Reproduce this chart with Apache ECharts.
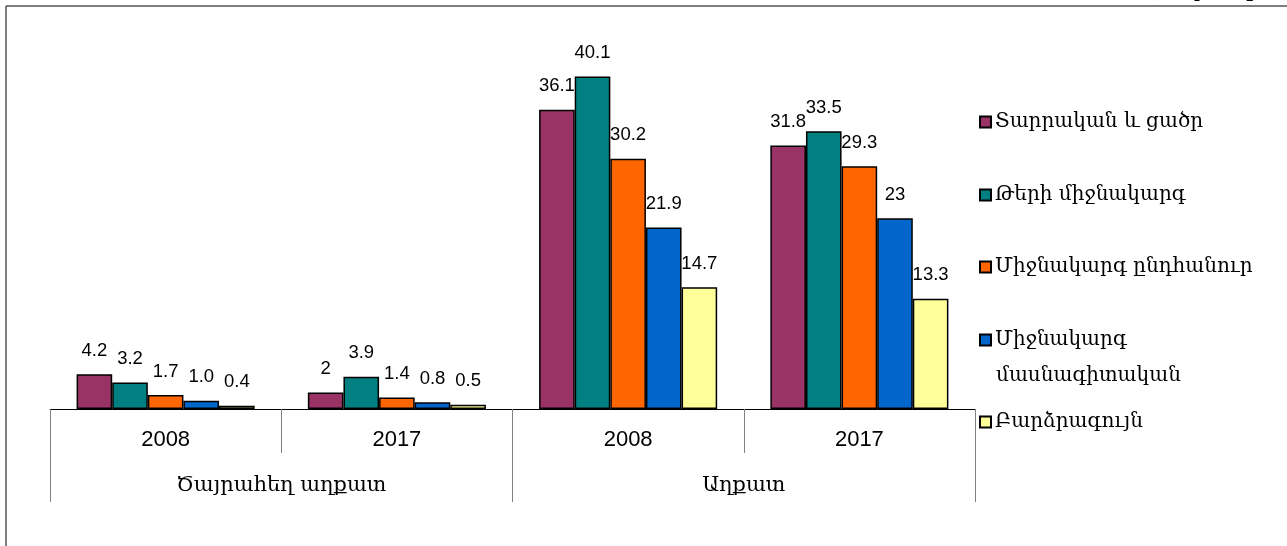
<!DOCTYPE html>
<html>
<head>
<meta charset="utf-8">
<script src="https://cdn.jsdelivr.net/npm/echarts@6/dist/echarts.min.js"></script>
<style>
  html, body { margin: 0; padding: 0; background: #fff; }
  #main { width: 1287px; height: 546px; }
</style>
</head>
<body>
<div id="main"></div>
<script>
// categories
var years = ['2008', '2017', '2008', '2017'];
var groups = ['Ծայրահեղ աղքատ', 'Աղքատ'];
// education levels (series)
var levels = ['Տարրական և ցածր', 'Թերի միջնակարգ', 'Միջնակարգ ընդհանուր', 'Միջնակարգ մասնագիտական', 'Բարձրագույն'];
// values, kept as printed in the source
var elementary = ['4.2', '2', '36.1', '31.8'];
var incompleteSecondary = ['3.2', '3.9', '40.1', '33.5'];
var generalSecondary = ['1.7', '1.4', '30.2', '29.3'];
var vocationalSecondary = ['1.0', '0.8', '21.9', '23'];
var higher = ['0.4', '0.5', '14.7', '13.3'];

var values = [elementary, incompleteSecondary, generalSecondary, vocationalSecondary, higher];
var colors = ['#993366', '#008080', '#FF6600', '#0066CC', '#FFFF99'];
var legendTops = [112, 185, 257, 330, 412];

var series = levels.map(function (name, i) {
    return {
        name: name,
        type: 'bar',
        xAxisIndex: 0,
        barGap: '0%',
        barCategoryGap: '23%',
        itemStyle: { color: colors[i], borderColor: '#000', borderWidth: 1.5 },
        label: {
            show: true,
            position: 'top',
            distance: 14,
            color: '#000',
            fontFamily: 'Liberation Sans',
            fontSize: 18.5,
            formatter: function (p) { return values[i][p.dataIndex]; }
        },
        data: values[i].map(Number)
    };
});

var legends = levels.map(function (name, i) {
    return {
        data: [name],
        left: 979,
        top: legendTops[i],
        padding: 0,
        icon: 'rect',
        itemWidth: 11,
        itemHeight: 11,
        selectedMode: false,
        formatter: function (n) { return n === 'Միջնակարգ մասնագիտական' ? 'Միջնակարգ' : n; },
        textStyle: { fontFamily: 'DejaVu Serif', fontSize: 20, color: '#000', padding: [0, 0, 0, -1] }
    };
});

var option = {
    animation: false,
    backgroundColor: '#fff',
    grid: { left: 50, right: 312, top: 36, bottom: 137, containLabel: false },
    legend: legends,
    xAxis: [
        {
            type: 'category',
            data: years,
            position: 'bottom',
            axisLine: { lineStyle: { color: '#000', width: 1 } },
            axisTick: { show: true, interval: 0, length: 44, lineStyle: { color: '#808080' } },
            axisLabel: { interval: 0, margin: 20, color: '#000', fontFamily: 'Liberation Sans', fontSize: 22 }
        },
        {
            type: 'category',
            data: groups,
            position: 'bottom',
            axisLine: { show: false },
            axisTick: { show: true, interval: 0, length: 93, lineStyle: { color: '#808080' } },
            axisLabel: { interval: 0, margin: 66, color: '#000', fontFamily: 'DejaVu Serif', fontSize: 21 }
        }
    ],
    yAxis: { type: 'value', min: 0, max: 45, show: false, splitLine: { show: false } },
    graphic: [
        { type: 'line', shape: { x1: 6, y1: 6, x2: 1287, y2: 6 }, style: { stroke: '#555', lineWidth: 1.5 } },
        { type: 'line', shape: { x1: 6, y1: 6, x2: 6, y2: 546 }, style: { stroke: '#555', lineWidth: 1.5 } },
        { type: 'text', left: 1148, top: -18, style: { text: '(տոկոսով)', fontFamily: 'DejaVu Serif', fontSize: 20, fill: '#000' } },
        { type: 'text', left: 996, top: 366, style: { text: 'մասնագիտական', fontFamily: 'DejaVu Serif', fontSize: 20, fill: '#000' } }
    ],
    series: series
};

var chart = echarts.init(document.getElementById('main'));
chart.setOption(option);
</script>
</body>
</html>
